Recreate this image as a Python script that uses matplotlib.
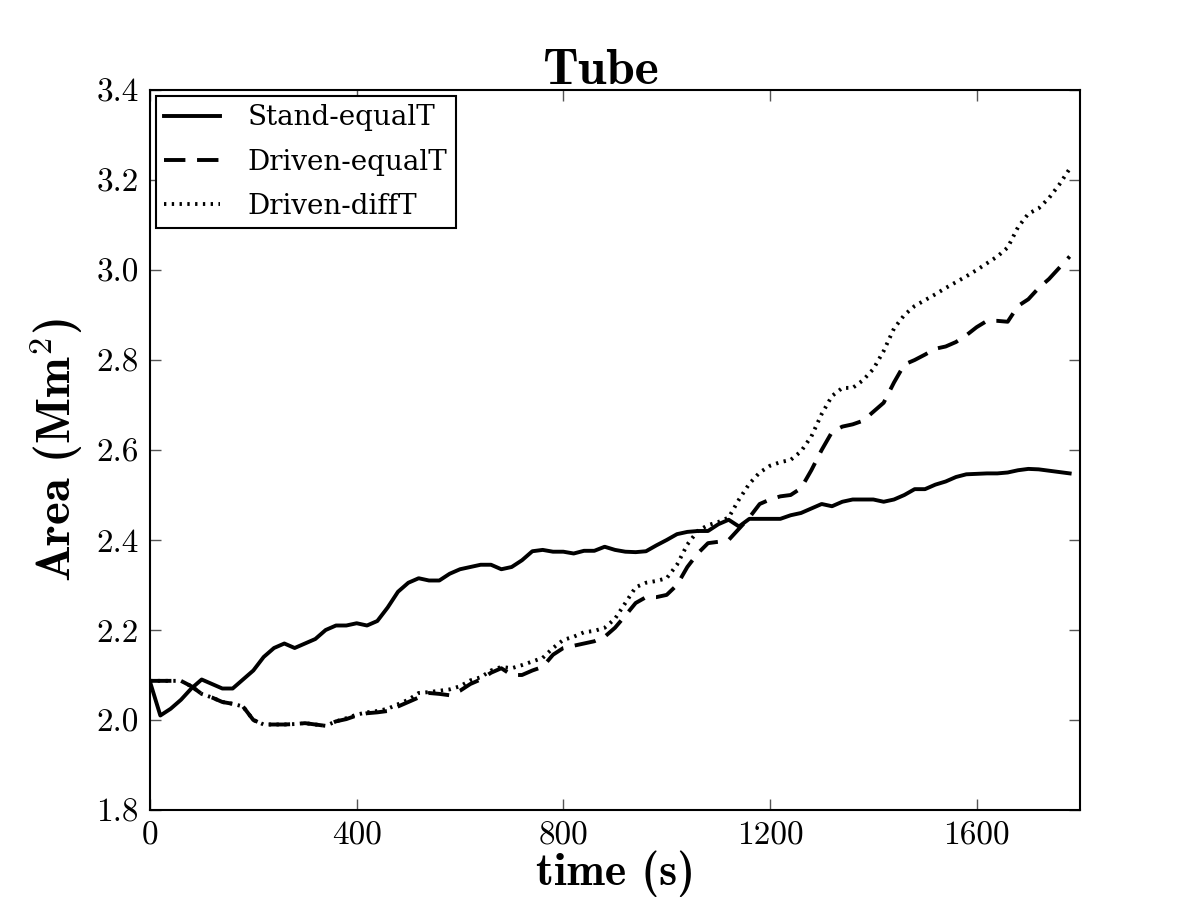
import matplotlib
matplotlib.use('Agg')
import matplotlib.pyplot as plt

plt.rcParams['font.family'] = 'cmr10'
plt.rcParams['mathtext.fontset'] = 'cm'
plt.rcParams['axes.unicode_minus'] = False
plt.rcParams['axes.formatter.use_mathtext'] = False

# time grid (s), one sample every 20 s
time = list(range(0, 1800, 20))

stand_equalT = [
    2.085, 2.010, 2.025, 2.045, 2.070, 2.090, 2.080, 2.070, 2.070, 2.090,
    2.110, 2.140, 2.160, 2.170, 2.160, 2.170, 2.180, 2.200, 2.210, 2.210,
    2.215, 2.210, 2.220, 2.250, 2.285, 2.305, 2.315, 2.310, 2.310, 2.325,
    2.335, 2.340, 2.345, 2.345, 2.335, 2.340, 2.355, 2.375, 2.378, 2.374,
    2.374, 2.370, 2.376, 2.376, 2.385, 2.378, 2.374, 2.373, 2.375, 2.388,
    2.400, 2.413, 2.418, 2.420, 2.420, 2.435, 2.445, 2.430, 2.447, 2.447,
    2.447, 2.447, 2.455, 2.460, 2.470, 2.480, 2.475, 2.485, 2.490, 2.490,
    2.490, 2.485, 2.490, 2.500, 2.513, 2.513, 2.523, 2.530, 2.540, 2.546,
    2.547, 2.548, 2.548, 2.550, 2.555, 2.558, 2.557, 2.554, 2.551, 2.548,
]

driven_equalT = [
    2.087, 2.087, 2.087, 2.087, 2.075, 2.058, 2.050, 2.040, 2.036, 2.030,
    2.000, 1.990, 1.990, 1.990, 1.991, 1.993, 1.990, 1.987, 1.997, 2.002,
    2.010, 2.015, 2.017, 2.020, 2.030, 2.040, 2.050, 2.060, 2.058, 2.055,
    2.065, 2.080, 2.090, 2.105, 2.115, 2.100, 2.100, 2.110, 2.118, 2.145,
    2.160, 2.165, 2.170, 2.175, 2.185, 2.205, 2.232, 2.260, 2.273, 2.273,
    2.278, 2.300, 2.340, 2.370, 2.393, 2.396, 2.400, 2.425, 2.450, 2.480,
    2.490, 2.497, 2.500, 2.515, 2.555, 2.600, 2.640, 2.652, 2.657, 2.665,
    2.685, 2.705, 2.750, 2.790, 2.800, 2.812, 2.825, 2.830, 2.840, 2.855,
    2.873, 2.887, 2.887, 2.885, 2.920, 2.935, 2.960, 2.980, 3.005, 3.030,
]

driven_diffT = [
    2.087, 2.087, 2.087, 2.087, 2.075, 2.058, 2.050, 2.040, 2.036, 2.030,
    2.000, 1.990, 1.990, 1.990, 1.991, 1.993, 1.990, 1.987, 1.997, 2.004,
    2.012, 2.017, 2.020, 2.025, 2.035, 2.045, 2.060, 2.062, 2.065, 2.068,
    2.075, 2.088, 2.095, 2.110, 2.118, 2.115, 2.122, 2.130, 2.138, 2.160,
    2.178, 2.185, 2.195, 2.198, 2.205, 2.225, 2.260, 2.295, 2.305, 2.309,
    2.315, 2.345, 2.390, 2.420, 2.433, 2.440, 2.450, 2.490, 2.525, 2.550,
    2.565, 2.573, 2.578, 2.597, 2.630, 2.680, 2.720, 2.738, 2.738, 2.755,
    2.780, 2.820, 2.870, 2.900, 2.920, 2.933, 2.946, 2.960, 2.973, 2.986,
    3.000, 3.015, 3.030, 3.050, 3.095, 3.125, 3.137, 3.160, 3.190, 3.225,
]

labels = ['Stand-equalT', 'Driven-equalT', 'Driven-diffT']
xticks = [0, 400, 800, 1200, 1600]
yticks = [1.8, 2.0, 2.2, 2.4, 2.6, 2.8, 3.0, 3.2, 3.4]

fig = plt.figure(figsize=(12, 9), dpi=100)
ax = fig.add_axes([0.125, 0.1, 0.775, 0.8])

ax.plot(time, stand_equalT, color='k', lw=2.8, label=labels[0])
ax.plot(time, driven_equalT, color='k', lw=2.8, dashes=(5.5, 3.0), label=labels[1])
ax.plot(time, driven_diffT, color='k', lw=2.8, dashes=(0.6, 1.4), label=labels[2])

ax.set_xlim(0, 1800)
ax.set_ylim(1.8, 3.4)
ax.set_xticks(xticks)
ax.set_xticklabels([str(x) for x in xticks])
ax.set_yticks(yticks)
ax.set_yticklabels(['%.1f' % y for y in yticks])
ax.tick_params(direction='in', length=8, width=1, top=True, right=True,
               labelsize=24, pad=8, color='#555555')
for s in ax.spines.values():
    s.set_linewidth(1.5)

ax.set_title('Tube', fontsize=37, family='cmb10', pad=4, x=0.484)
ax.set_xlabel('time (s)', fontsize=33, family='cmb10', labelpad=0)
ax.set_ylabel(r'Area (Mm$^{\mathbf{2}}$)', fontsize=35, family='cmb10', labelpad=8)

leg = ax.legend(loc='upper left', handlelength=2.0, borderaxespad=0.22,
                fancybox=False, framealpha=1, edgecolor='k', borderpad=0.3,
                labelspacing=0.62, handletextpad=1.0,
                prop={'family': 'DejaVu Serif', 'size': 20})
leg.get_frame().set_linewidth(1.5)

fig.savefig('out.png', dpi=100)
